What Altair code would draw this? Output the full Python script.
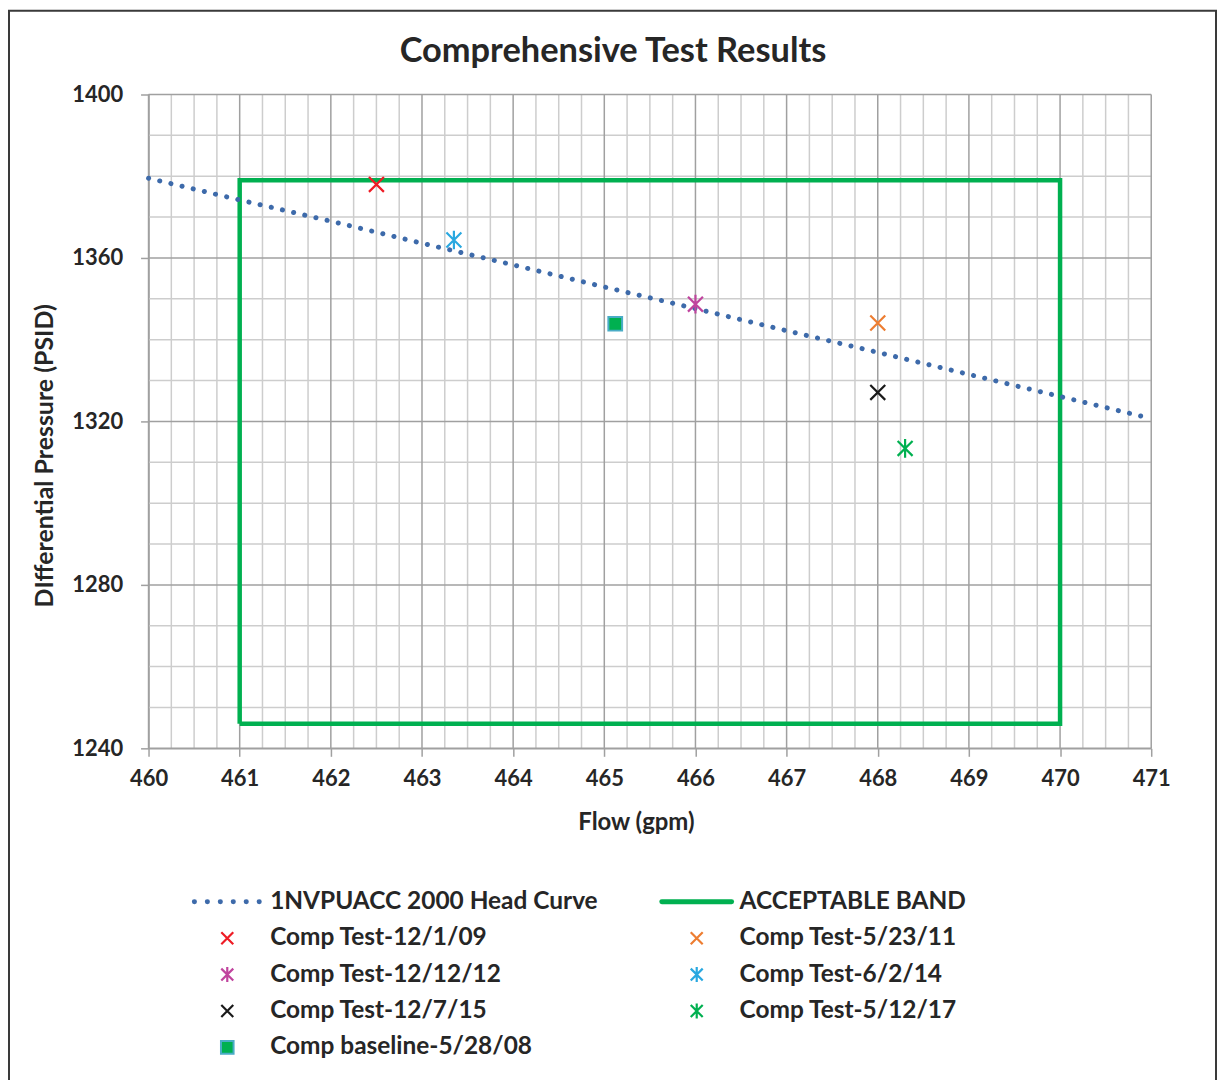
import altair as alt
import pandas as pd

# ---------------- data ----------------
TITLE = "Comprehensive Test Results"
X_TICKS = [460, 461, 462, 463, 464, 465, 466, 467, 468, 469, 470, 471]
Y_TICKS = [1240, 1280, 1320, 1360, 1400]
X_MINOR = [460.25, 460.5, 460.75, 461.25, 461.5, 461.75, 462.25, 462.5, 462.75,
           463.25, 463.5, 463.75, 464.25, 464.5, 464.75, 465.25, 465.5, 465.75,
           466.25, 466.5, 466.75, 467.25, 467.5, 467.75, 468.25, 468.5, 468.75,
           469.25, 469.5, 469.75, 470.25, 470.5, 470.75]
Y_MINOR = [1250, 1260, 1270, 1290, 1300, 1310, 1330, 1340, 1350, 1370, 1380, 1390]

curve_flow = [460, 461, 462, 463, 464, 465, 466, 467, 468, 469, 470, 471]
curve_dp = [1379.5, 1374.2, 1369.0, 1363.6, 1358.3, 1352.9, 1347.6, 1342.2,
            1336.9, 1331.5, 1326.1, 1320.7]

band_flow = [461, 461, 470, 470, 461]
band_dp = [1246, 1379, 1379, 1246, 1246]

test_names = ["Comp Test-12/1/09", "Comp Test-5/23/11", "Comp Test-12/12/12",
              "Comp Test-6/2/14", "Comp Test-12/7/15", "Comp Test-5/12/17"]
test_flow = [462.5, 468.0, 466.0, 463.35, 468.0, 468.3]
test_dp = [1378.0, 1344.1, 1348.7, 1364.4, 1327.1, 1313.4]
test_colors = ["#ee1c25", "#ed7d31", "#c0449e", "#29a8e0", "#1a1a1a", "#00b050"]

base_name = ["Comp baseline-5/28/08"]
base_flow = [465.12]
base_dp = [1343.9]

legend_labels = ["1NVPUACC 2000 Head Curve", "ACCEPTABLE BAND",
                 "Comp Test-12/1/09", "Comp Test-5/23/11",
                 "Comp Test-12/12/12", "Comp Test-6/2/14",
                 "Comp Test-12/7/15", "Comp Test-5/12/17",
                 "Comp baseline-5/28/08"]
legend_row = [0, 0, 1, 1, 2, 2, 3, 3, 4]
legend_col = [0, 1, 0, 1, 0, 1, 0, 1, 0]

# ---------------- styles ----------------
FONT = "Lato"
TXT = "#262626"
X_PATH = "M-1,-1L1,1M-1,1L1,-1"
STAR_PATH = "M-1,-1L1,1M-1,1L1,-1M0,-1.25L0,1.25"
test_shapes = [X_PATH, X_PATH, STAR_PATH, STAR_PATH, X_PATH, STAR_PATH]

W, H = 1006, 656

xscale = alt.Scale(domain=[460, 471], nice=False, zero=False)
yscale = alt.Scale(domain=[1240, 1400], nice=False, zero=False)

xaxis = alt.Axis(values=X_TICKS, format="d", grid=False, title="Flow (gpm)",
                 domainColor="#a0a0a0", domainWidth=1.5, tickColor="#a0a0a0",
                 tickWidth=1.5, tickSize=8, labelPadding=12, labelFontSize=22,
                 labelFont=FONT, labelFontWeight="bold", labelColor=TXT,
                 labelFlush=False, labelOverlap=False,
                 titleFont=FONT, titleFontSize=24, titleFontWeight="bold",
                 titleColor=TXT, titleX=489, titleY=74, titleAlign="center",
                 titleBaseline="middle")
yaxis = alt.Axis(values=Y_TICKS, format="d", grid=False,
                 title="DIfferential Pressure (PSID)",
                 domainColor="#a0a0a0", domainWidth=1.5, tickColor="#a0a0a0",
                 tickWidth=1.5, tickSize=8, labelPadding=18, labelFontSize=22,
                 labelFont=FONT, labelFontWeight="bold", labelColor=TXT,
                 labelFlush=False, labelOverlap=False,
                 titleFont=FONT, titleFontSize=25, titleFontWeight="bold",
                 titleColor=TXT, titleX=-104, titleY=362, titleAngle=270,
                 titleAlign="center", titleBaseline="middle")


def X(f):
    return alt.X(f, type="quantitative", scale=xscale, axis=xaxis)


def Y(f):
    return alt.Y(f, type="quantitative", scale=yscale, axis=yaxis)


minor_x = alt.Chart(pd.DataFrame({"flow": X_MINOR})).mark_rule(
    color="#cdcdcd", strokeWidth=1.5).encode(x=X("flow"))
minor_y = alt.Chart(pd.DataFrame({"dp": Y_MINOR})).mark_rule(
    color="#cdcdcd", strokeWidth=1.5).encode(y=Y("dp"))
major_x = alt.Chart(pd.DataFrame({"flow": X_TICKS})).mark_rule(
    color="#a0a0a0", strokeWidth=1.5).encode(x=X("flow"))
major_y = alt.Chart(pd.DataFrame({"dp": Y_TICKS})).mark_rule(
    color="#a0a0a0", strokeWidth=1.5).encode(y=Y("dp"))

curve = alt.Chart(pd.DataFrame({"flow": curve_flow, "dp": curve_dp})).mark_line(
    color="#3d6aaa", strokeWidth=5, strokeCap="round", strokeDash=[0.1, 11.4]
).encode(x=X("flow"), y=Y("dp"))

band = alt.Chart(pd.DataFrame({"flow": band_flow, "dp": band_dp,
                               "o": list(range(len(band_flow)))})).mark_line(
    color="#00b050", strokeWidth=4.5, strokeJoin="miter"
).encode(x=X("flow"), y=Y("dp"), order="o:O")

tests = alt.Chart(pd.DataFrame({"name": test_names, "flow": test_flow,
                                "dp": test_dp})).mark_point(
    filled=False, strokeWidth=2.2, size=225, opacity=1
).encode(
    x=X("flow"), y=Y("dp"),
    color=alt.Color("name:N", scale=alt.Scale(domain=test_names, range=test_colors), legend=None),
    shape=alt.Shape("name:N", scale=alt.Scale(domain=test_names, range=test_shapes), legend=None),
)

base = alt.Chart(pd.DataFrame({"name": base_name, "flow": base_flow,
                               "dp": base_dp})).mark_square(
    size=190, color="#00b050", stroke="#4aacc6", strokeWidth=2, opacity=1
).encode(x=X("flow"), y=Y("dp"))

main = alt.layer(minor_x, minor_y, major_x, major_y, band, curve, base, tests)

# ---------------- manual legend ----------------
leg_df = pd.DataFrame({"label": legend_labels, "row": legend_row, "col": legend_col})
lx = alt.Scale(domain=[0, 1], range=[79, 550])
ly = alt.Scale(domain=[0, 4], range=[810, 956])
LX = alt.X("col:Q", scale=lx, axis=None)
LY = alt.Y("row:Q", scale=ly, axis=None)

leg_text = alt.Chart(leg_df).mark_text(
    align="left", baseline="middle", dx=43, font=FONT, fontSize=24.5,
    fontWeight="bold", color=TXT
).encode(x=LX, y=LY, text="label:N")

leg_curve = alt.Chart(leg_df).transform_filter(
    alt.datum.label == legend_labels[0]).mark_point(
    shape="M-1,0L1,0", size=66 * 66, color="#3d6aaa", filled=False,
    strokeWidth=5, strokeCap="round", strokeDash=[0.1, 12.9], opacity=1
).encode(x=LX, y=LY)

leg_band = alt.Chart(leg_df).transform_filter(
    alt.datum.label == legend_labels[1]).mark_point(
    shape="M-1,0L1,0", size=70 * 70, color="#00b050", filled=False,
    strokeWidth=5, strokeCap="round", opacity=1
).encode(x=LX, y=LY)

leg_tests = alt.Chart(leg_df).transform_filter(
    alt.FieldOneOfPredicate(field="label", oneOf=test_names)).mark_point(
    filled=False, strokeWidth=2.2, size=144, opacity=1
).encode(
    x=LX, y=LY,
    color=alt.Color("label:N", scale=alt.Scale(domain=test_names, range=test_colors), legend=None),
    shape=alt.Shape("label:N", scale=alt.Scale(domain=test_names, range=test_shapes), legend=None),
)

leg_base = alt.Chart(leg_df).transform_filter(
    alt.datum.label == base_name[0]).mark_square(
    size=160, color="#00b050", stroke="#4aacc6", strokeWidth=2, opacity=1
).encode(x=LX, y=LY)

frame = alt.Chart(leg_df).transform_filter(alt.datum.row == 4).mark_rect(
    filled=False, stroke="#3a3a3a", strokeWidth=2
).encode(x=alt.value(-140), x2=alt.value(1071), y=alt.value(-84), y2=alt.value(1000))

title = alt.Chart(pd.DataFrame({"t": [TITLE]})).mark_text(
    font=FONT, fontSize=34.5, fontWeight="bold", color=TXT,
    align="center", baseline="middle"
).encode(text="t:N", x=alt.value(466), y=alt.value(-43))

legend = alt.layer(leg_curve, leg_band, leg_tests, leg_base, leg_text, frame, title)

chart = alt.layer(main, legend).resolve_scale(
    x="independent", y="independent", color="independent", shape="independent"
).properties(
    width=W, height=H,
    autosize=alt.AutoSizeParams(type="none"),
    padding={"left": 141, "top": 85, "right": 66, "bottom": 340},
    background="white",
).configure_view(stroke=None)

chart.save("out.html", embed_options={"renderer": "svg", "actions": False})
